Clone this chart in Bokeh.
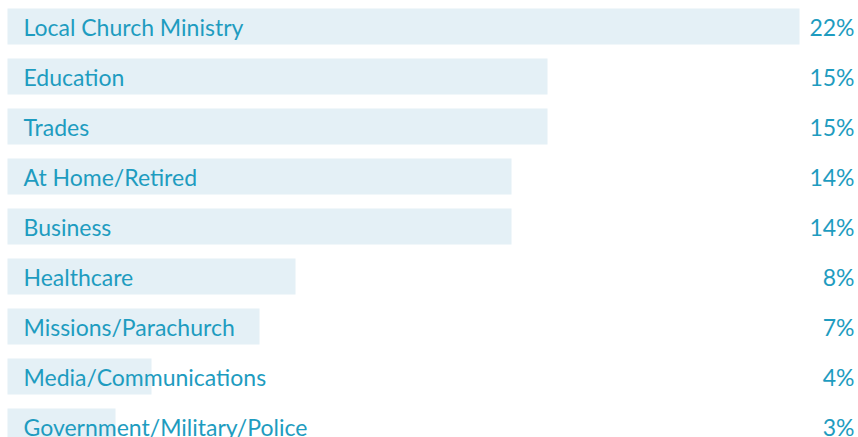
from bokeh.plotting import figure
from bokeh.models import Range1d, ColumnDataSource
from bokeh.core.properties import value
from bokeh.embed import file_html
from bokeh.resources import INLINE

categories = ["Local Church Ministry", "Education", "Trades", "At Home/Retired", "Business",
              "Healthcare", "Missions/Parachurch", "Media/Communications", "Government/Military/Police"]
values = [22, 15, 15, 14, 14, 8, 7, 4, 3]
labels = [f"{v}%" for v in values]

W, H = 858, 437
PX_PER_PCT = 36
ROW = 50
BAR_H = 36
LEFT_OFF = 7      # bar start, px from figure left
TOP_OFF = 26      # first bar centre, px from figure top
LABEL_GAP = 16    # label inset from bar start
RIGHT_PAD = 4

idx = list(range(len(categories)))
src = ColumnDataSource(dict(y=idx, v=values, cat=categories, lab=labels,
                            lx=[LABEL_GAP / PX_PER_PCT] * len(idx),
                            rx=[(W - LEFT_OFF - RIGHT_PAD) / PX_PER_PCT] * len(idx)))

p = figure(width=W, height=H, output_backend="svg", toolbar_location=None,
           x_range=Range1d(-LEFT_OFF / PX_PER_PCT, (W - LEFT_OFF) / PX_PER_PCT),
           y_range=Range1d((H - TOP_OFF) / ROW, -TOP_OFF / ROW),
           min_border=0, outline_line_color=None)
p.axis.visible = False
p.grid.visible = False
p.background_fill_color = "white"
p.border_fill_color = "white"

p.hbar(y="y", left=0, right="v", height=BAR_H / ROW, source=src,
       fill_color="#e4f0f6", line_color=None)
p.text(x="lx", y="y", text="cat", source=src, text_font=value("Lato"),
       text_font_size="23px", text_color="#1e9cc0", text_baseline="middle", text_align="left")
p.text(x="rx", y="y", text="lab", source=src, text_font=value("Lato"),
       text_font_size="23px", text_color="#1e9cc0", text_baseline="middle", text_align="right")

open("out.html", "w").write(file_html(p, INLINE))
